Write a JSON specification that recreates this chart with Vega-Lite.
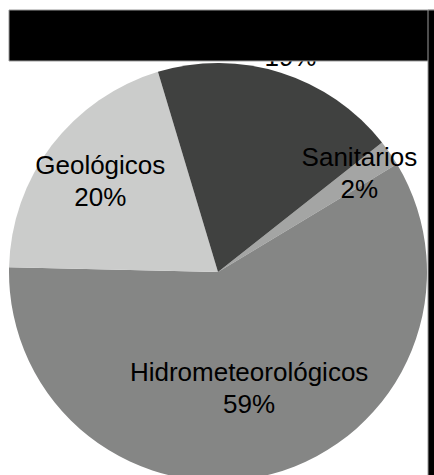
{
  "$schema": "https://vega.github.io/schema/vega-lite/v6.json",
  "width": 418,
  "height": 406,
  "padding": {"left": 9, "top": 69, "right": 7, "bottom": 0},
  "autosize": {"type": "none"},
  "background": "white",
  "config": {"view": {"stroke": null}},
  "data": {
    "values": [
      {"risk": "Sanitarios", "pct": 0.02, "k": 1},
      {"risk": "Hidrometeorológicos", "pct": 0.59, "k": 2},
      {"risk": "Geológicos", "pct": 0.20, "k": 3},
      {"risk": "Químico-Tecnológicos", "pct": 0.19, "k": 4}
    ]
  },
  "layer": [
    {
      "encoding": {
        "theta": {"field": "pct", "type": "quantitative", "stack": true, "scale": {"range": [0.9023, 7.1855]}},
        "order": {"field": "k", "type": "ordinal"}
      },
      "layer": [
        {
          "mark": {"type": "arc", "outerRadius": 209},
          "encoding": {
            "color": {
              "field": "risk",
              "type": "nominal",
              "legend": null,
              "scale": {
                "domain": ["Sanitarios", "Hidrometeorológicos", "Geológicos", "Químico-Tecnológicos"],
                "range": ["#a4a5a4", "#858685", "#cbcccb", "#404140"]
              }
            }
          }
        },
        {
          "mark": {"type": "text", "radius": 172, "dy": -16, "fontSize": 26, "font": "Liberation Sans", "color": "black"},
          "encoding": {"text": {"condition": {"test": "datum.risk === 'Sanitarios'", "field": "risk"}, "value": ""}}
        },
        {
          "mark": {"type": "text", "radius": 172, "dy": 16, "fontSize": 26, "font": "Liberation Sans", "color": "black"},
          "encoding": {"text": {"condition": {"test": "datum.risk === 'Sanitarios'", "field": "pct", "format": ".0%"}, "value": ""}}
        },
        {
          "mark": {"type": "text", "radius": 121, "dy": -16, "fontSize": 26, "font": "Liberation Sans", "color": "black"},
          "encoding": {"text": {"condition": {"test": "datum.risk === 'Hidrometeorológicos'", "field": "risk"}, "value": ""}}
        },
        {
          "mark": {"type": "text", "radius": 121, "dy": 16, "fontSize": 26, "font": "Liberation Sans", "color": "black"},
          "encoding": {"text": {"condition": {"test": "datum.risk === 'Hidrometeorológicos'", "field": "pct", "format": ".0%"}, "value": ""}}
        },
        {
          "mark": {"type": "text", "radius": 148, "dy": -16, "fontSize": 26, "font": "Liberation Sans", "color": "black"},
          "encoding": {"text": {"condition": {"test": "datum.risk === 'Geológicos'", "field": "risk"}, "value": ""}}
        },
        {
          "mark": {"type": "text", "radius": 148, "dy": 16, "fontSize": 26, "font": "Liberation Sans", "color": "black"},
          "encoding": {"text": {"condition": {"test": "datum.risk === 'Geológicos'", "field": "pct", "format": ".0%"}, "value": ""}}
        },
        {
          "mark": {"type": "text", "radius": 241, "dy": -16, "fontSize": 26, "font": "Liberation Sans", "color": "black"},
          "encoding": {"text": {"condition": {"test": "datum.risk === 'Químico-Tecnológicos'", "field": "risk"}, "value": ""}}
        },
        {
          "mark": {"type": "text", "radius": 241, "dy": 16, "fontSize": 26, "font": "Liberation Sans", "color": "black"},
          "encoding": {"text": {"condition": {"test": "datum.risk === 'Químico-Tecnológicos'", "field": "pct", "format": ".0%"}, "value": ""}}
        }
      ]
    },
    {
      "data": {"values": [{"part": "header"}]},
      "mark": {"type": "rect", "color": "black", "stroke": "#9a9a9a", "strokeWidth": 1},
      "encoding": {
        "x": {"datum": -1, "type": "quantitative", "scale": {"domain": [-1, 1], "nice": false, "zero": false}, "axis": null},
        "x2": {"datum": 1.06},
        "y": {"datum": 1.0096, "type": "quantitative", "scale": {"domain": [-0.9713, 0.9713], "nice": false, "zero": false}, "axis": null},
        "y2": {"datum": 1.2536}
      }
    },
    {
      "data": {"values": [{"part": "side"}]},
      "mark": {"type": "rect", "color": "black", "stroke": "#9a9a9a", "strokeWidth": 1},
      "encoding": {
        "x": {"datum": 1.0048, "type": "quantitative", "scale": {"domain": [-1, 1], "nice": false, "zero": false}, "axis": null},
        "x2": {"datum": 1.06},
        "y": {"datum": -1.0, "type": "quantitative", "scale": {"domain": [-0.9713, 0.9713], "nice": false, "zero": false}, "axis": null},
        "y2": {"datum": 1.2536}
      }
    }
  ]
}
